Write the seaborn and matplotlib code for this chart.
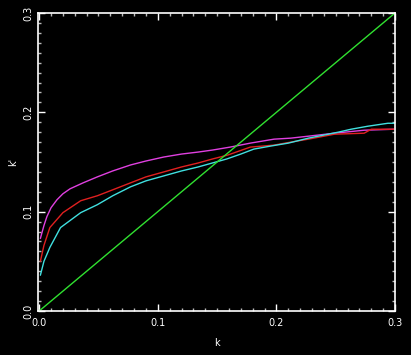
import matplotlib
matplotlib.use("Agg")
import matplotlib.pyplot as plt
import seaborn as sns
import numpy as np
import pandas as pd
from matplotlib.ticker import MultipleLocator

sns.set_theme(style="dark")
plt.rcParams['font.family'] = ['DejaVu Sans']

# data
mag_x = [0.001, 0.004, 0.0065, 0.010, 0.015, 0.020, 0.026, 0.037, 0.049, 0.062, 0.077, 0.090, 0.105, 0.120, 0.134, 0.146, 0.161, 0.178, 0.198, 0.212, 0.227, 0.249, 0.274, 0.299]
mag_y = [0.073, 0.086, 0.095, 0.104, 0.112, 0.118, 0.123, 0.129, 0.135, 0.141, 0.147, 0.151, 0.155, 0.158, 0.160, 0.162, 0.165, 0.169, 0.173, 0.174, 0.176, 0.179, 0.182, 0.183]

red_x = [0.001, 0.004, 0.009, 0.020, 0.035, 0.049, 0.062, 0.077, 0.090, 0.105, 0.120, 0.134, 0.146, 0.159, 0.178, 0.198, 0.212, 0.227, 0.249, 0.274, 0.280, 0.299]
red_y = [0.050, 0.066, 0.084, 0.099, 0.111, 0.116, 0.122, 0.129, 0.135, 0.140, 0.145, 0.149, 0.153, 0.157, 0.165, 0.167, 0.170, 0.173, 0.178, 0.179, 0.183, 0.183]

cyan_x = [0.001, 0.004, 0.009, 0.018, 0.035, 0.049, 0.062, 0.077, 0.090, 0.105, 0.120, 0.134, 0.146, 0.158, 0.170, 0.181, 0.195, 0.210, 0.227, 0.252, 0.263, 0.277, 0.294, 0.300]
cyan_y = [0.036, 0.050, 0.064, 0.084, 0.099, 0.107, 0.116, 0.125, 0.131, 0.136, 0.141, 0.145, 0.149, 0.153, 0.158, 0.163, 0.166, 0.169, 0.174, 0.180, 0.183, 0.186, 0.189, 0.189]

green_x = [0.0, 0.3]
green_y = [0.0, 0.3]

fig = plt.figure(figsize=(4.11, 3.55), dpi=100, facecolor="black")
ax = fig.add_axes([38/411, 44/355, 357/411, 298/355])
ax.set_facecolor("black")

sns.lineplot(x=mag_x, y=mag_y, ax=ax, color="#e040e0", lw=1.0, sort=False)
sns.lineplot(x=red_x, y=red_y, ax=ax, color="#e02020", lw=1.0, sort=False)
sns.lineplot(x=cyan_x, y=cyan_y, ax=ax, color="#40e0e0", lw=1.0, sort=False)
sns.lineplot(x=green_x, y=green_y, ax=ax, color="#30e030", lw=1.0, sort=False)

ax.set_xlim(-0.001, 0.3)
ax.set_ylim(0.0, 0.3)
ax.grid(False)
for s in ax.spines.values():
    s.set_color("white")
    s.set_linewidth(1.2)

ax.xaxis.set_major_locator(MultipleLocator(0.1))
ax.xaxis.set_minor_locator(MultipleLocator(0.01))
ax.yaxis.set_major_locator(MultipleLocator(0.1))
ax.yaxis.set_minor_locator(MultipleLocator(0.01))
ax.tick_params(which="both", direction="in", colors="white", top=True, right=True,
               bottom=True, left=True, labelsize=7)
ax.tick_params(which="major", length=5, width=1)
ax.tick_params(which="minor", length=2.5, width=1, color="#bbbbbb")
ax.set_xticks([0.0, 0.1, 0.2, 0.3])
ax.set_xticklabels(["0.0", "0.1", "0.2", "0.3"])
ax.set_yticks([0.0, 0.1, 0.2, 0.3])
ax.set_yticklabels(["0.0", "0.1", "0.2", "0.3"], rotation=90, va="center")
ax.tick_params(axis="x", pad=5)
ax.tick_params(axis="y", pad=3)

ax.set_xlabel("k", color="white", fontsize=7, labelpad=7)
ax.set_ylabel("k'", color="white", fontsize=7, labelpad=4)

fig.savefig("out.png", dpi=100, facecolor="black")
